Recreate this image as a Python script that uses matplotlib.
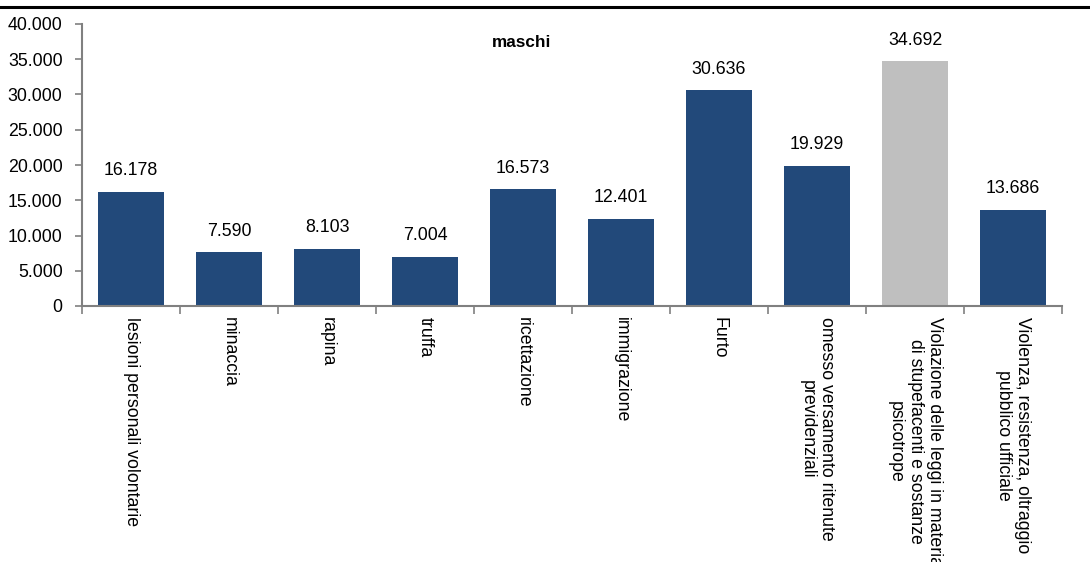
import numpy as np
import matplotlib
matplotlib.use("Agg")
import matplotlib.pyplot as plt
from matplotlib.lines import Line2D

plt.rcParams['font.family'] = ['Liberation Sans', 'DejaVu Sans']

# dati
categorie = ["lesioni personali volontarie", "minaccia", "rapina", "truffa",
             "ricettazione", "immigrazione", "Furto",
             "omesso versamento ritenute\nprevidenziali",
             "Violazione delle leggi in materia\ndi stupefacenti e sostanze\npsicotrope",
             "Violenza, resistenza, oltraggio\npubblico ufficiale"]
valori = [16178, 7590, 8103, 7004, 16573, 12401, 30636, 19929, 34692, 13686]
evidenziato = [False, False, False, False, False, False, False, False, True, False]

blu = "#22497A"
grigio = "#BFBFBF"
fs = 12.8

def fmt(v):
    return "{:,}".format(int(v)).replace(",", ".")

fig = plt.figure(figsize=(10.9, 5.62), dpi=100)
ax = fig.add_axes([82/1090, 1-306/562, 980/1090, 282/562])

x = np.arange(len(valori))
colori = [grigio if e else blu for e in evidenziato]
barre = ax.bar(x, valori, width=0.68, color=colori, edgecolor="none")

for xi, v in zip(x, valori):
    ax.annotate(fmt(v), (xi, v), xytext=(0, 9), textcoords="offset points",
                ha="center", va="bottom", fontsize=fs)

ax.set_xlim(-0.5, len(valori) - 0.5)
ax.set_ylim(0, 40000)
ax.set_yticks(np.arange(0, 40001, 5000))
ax.set_yticklabels([fmt(t) for t in np.arange(0, 40001, 5000)], fontsize=fs)

ax.set_xticks(x)
ax.set_xticklabels(categorie, rotation=-90, ha="center", va="top",
                   multialignment="center", fontsize=fs)
ax.tick_params(axis="x", length=0, pad=8)
ax.set_xticks(np.arange(-0.5, len(valori), 1), minor=True)
ax.tick_params(axis="x", which="minor", length=6, color="#808080", width=1.2)
ax.tick_params(axis="y", length=5, color="#808080", width=1.2, pad=9)

for s in ["top", "right"]:
    ax.spines[s].set_visible(False)
for s in ["left", "bottom"]:
    ax.spines[s].set_color("#808080")
    ax.spines[s].set_linewidth(1.5)

ax.text(0.449, 0.936, "maschi", transform=ax.transAxes, ha="center", va="center",
        fontsize=fs - 0.5, fontweight="bold")

fig.add_artist(Line2D([0, 1], [1-7/562, 1-7/562], color="black", linewidth=2.2,
                      transform=fig.transFigure))

fig.savefig("out.png", dpi=100)
